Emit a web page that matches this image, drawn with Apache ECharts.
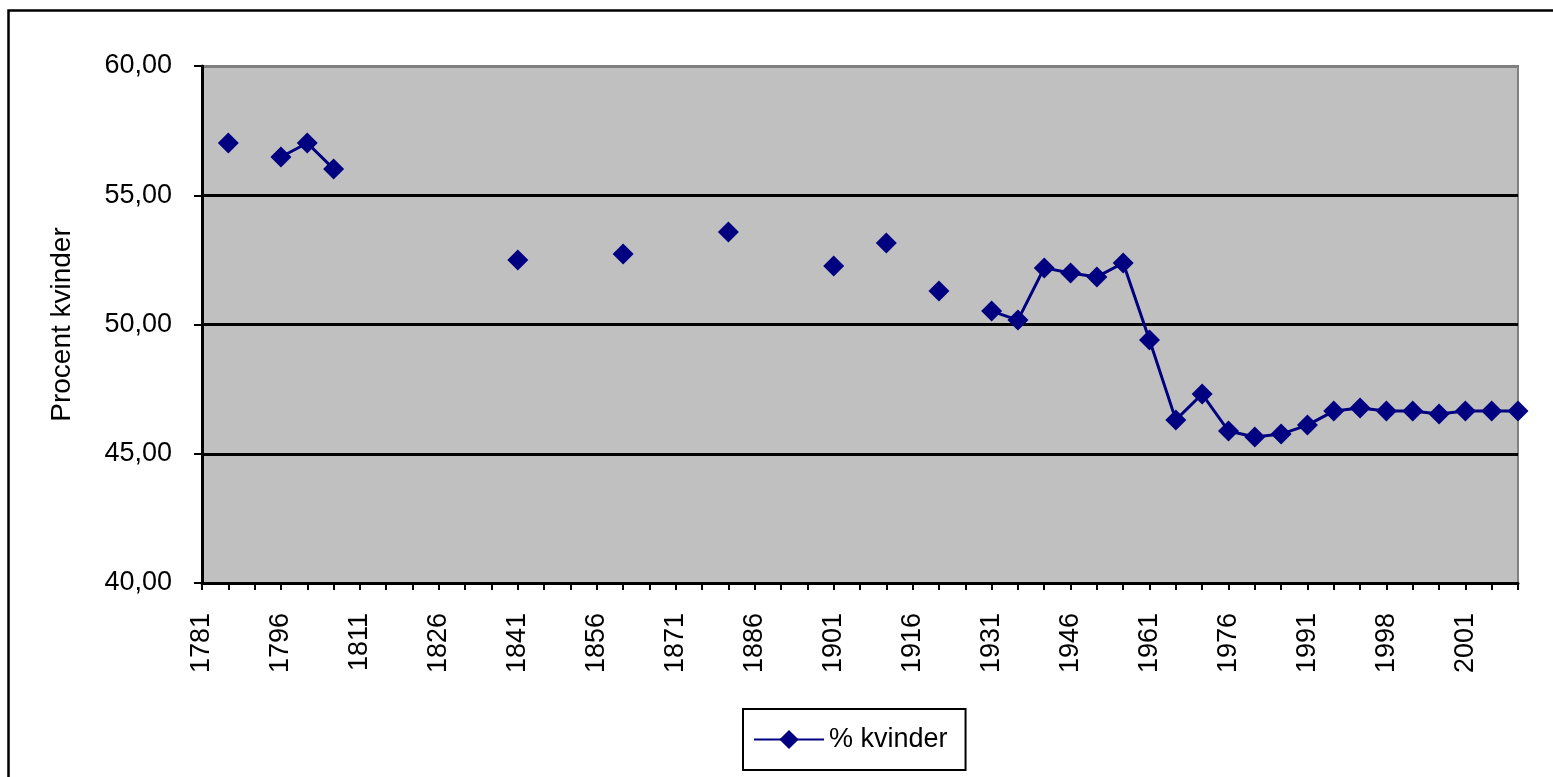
<!DOCTYPE html>
<html>
<head>
<meta charset="utf-8">
<script src="https://cdn.jsdelivr.net/npm/echarts@6/dist/echarts.min.js"></script>
<style>html,body{margin:0;padding:0;background:#fff;}#c{width:1553px;height:777px;}</style>
</head>
<body>
<div id="c"></div>
<script>
// Categories (years)
const years = [
  '1781','1786','1791','1796','1801','1806','1811','1816','1821','1826',
  '1831','1836','1841','1846','1851','1856','1861','1866','1871','1876',
  '1881','1886','1891','1896','1901','1906','1911','1916','1921','1926',
  '1931','1936','1941','1946','1951','1956','1961','1966','1971','1976',
  '1981','1986','1991','1994','1997','1998','1999','2000','2001','2002','2003'
];
// % kvinder (null = no value)
const kvinder = [
  null, 57.02, null, 56.48, 57.02, 56.02, null, null, null, null,
  null, null, 52.50, null, null, null, 52.73, null, null, null,
  53.58, null, null, null, 52.26, null, 53.15, null, 51.30, null,
  50.52, 50.17, 52.19, 51.99, 51.84, 52.38, 49.40, 46.31, 47.31, 45.88,
  45.65, 45.76, 46.11, 46.65, 46.77, 46.65, 46.65, 46.54, 46.65, 46.65, 46.65
];
const yTicks = { min: 40, max: 60, interval: 5 };

const FONT = '"Liberation Sans", Arial, sans-serif';
const chart = echarts.init(document.getElementById('c'));
chart.setOption({
  animation: false,
  backgroundColor: '#ffffff',
  textStyle: { fontFamily: FONT, color: '#000' },
  graphic: [{
    type: 'rect', left: 6, top: 8, shape: { width: 1600, height: 800 },
    style: { fill: 'none', stroke: '#000', lineWidth: 2.5 }, silent: true, z: -1
  }],
  grid: {
    left: 202, top: 66, right: 35, bottom: 194,
    show: true, backgroundColor: '#C0C0C0', borderColor: '#808080', borderWidth: 2
  },
  legend: {
    left: 743, top: 709,
    data: ['% kvinder'],
    itemWidth: 70, itemHeight: 24, itemGap: 8,
    padding: [17, 18, 17, 10],
    borderColor: '#000', borderWidth: 2,
    textStyle: { fontFamily: FONT, fontSize: 27, color: '#000' }
  },
  xAxis: {
    type: 'category', data: years, boundaryGap: false,
    axisLine: { lineStyle: { color: '#000', width: 3 } },
    axisTick: { show: true, interval: 0, length: 7, lineStyle: { color: '#000', width: 2 } },
    axisLabel: { interval: 2, rotate: 90, margin: 30, fontSize: 27, color: '#000', fontFamily: FONT },
    splitLine: { show: false }
  },
  yAxis: {
    type: 'value', min: yTicks.min, max: yTicks.max, interval: yTicks.interval,
    name: 'Procent kvinder', nameLocation: 'middle', nameGap: 126,
    nameTextStyle: { fontSize: 28, color: '#000', fontFamily: FONT },
    axisLine: { show: true, lineStyle: { color: '#000', width: 3 } },
    axisTick: { show: true, length: 8, lineStyle: { color: '#000', width: 2 } },
    axisLabel: {
      fontSize: 27, color: '#000', margin: 30, fontFamily: FONT,
      formatter: v => v.toFixed(2).replace('.', ',')
    },
    splitLine: { show: true, lineStyle: { color: ['#000', '#000', '#000', '#000', '#808080'], width: 3 } }
  },
  series: [{
    name: '% kvinder', type: 'line', data: kvinder,
    connectNulls: false, showSymbol: true, showAllSymbol: true,
    symbol: 'diamond', symbolSize: 21,
    itemStyle: { color: '#000080' },
    lineStyle: { color: '#000080', width: 3 }
  }]
});
</script>
</body>
</html>
